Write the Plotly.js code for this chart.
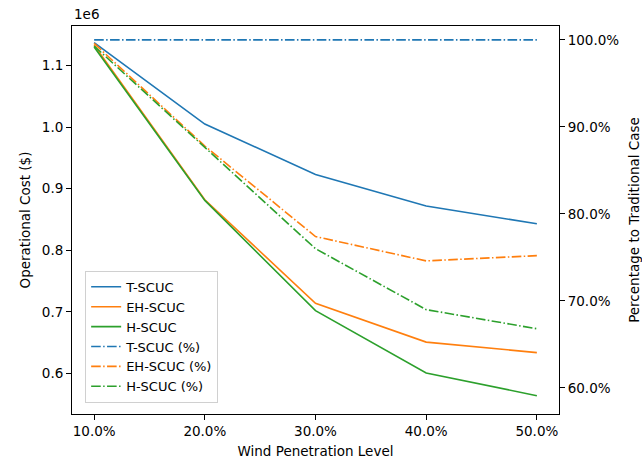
<!DOCTYPE html>
<html>
<head>
<meta charset="utf-8">
<script src="https://cdn.plot.ly/plotly-3.0.1.min.js"></script>
<style>html,body{margin:0;padding:0;background:#fff;}#chart{width:642px;height:462px;}</style>
</head>
<body>
<div id="chart"></div>
<script>
// Wind penetration levels (%)
const windLevels = [10, 20, 30, 40, 50];
const windLabels = ['10.0%', '20.0%', '30.0%', '40.0%', '50.0%'];
// Operational cost (in units of 1e6 $)
const costT = [1.137, 1.005, 0.923, 0.872, 0.843];
const costEH = [1.133, 0.882, 0.714, 0.651, 0.634];
const costH = [1.130, 0.881, 0.702, 0.601, 0.564];
// Percentage to traditional case (%)
const pctT = [100, 100, 100, 100, 100];
const pctEH = [99.6, 87.8, 77.4, 74.6, 75.2];
const pctH = [99.3, 87.6, 76.0, 69.0, 66.8];

const C_BLUE = '#1f77b4', C_ORANGE = '#ff7f0e', C_GREEN = '#2ca02c';
const DASHDOT = '9.6px,2.4px,1.5px,2.4px';

function solid(name, y, color) {
  return {x: windLevels, y: y, name: name, type: 'scatter', mode: 'lines',
          line: {color: color, width: 1.6}, yaxis: 'y', hoverinfo: 'skip'};
}
function dd(name, y, color) {
  return {x: windLevels, y: y, name: name, type: 'scatter', mode: 'lines',
          line: {color: color, width: 1.6, dash: DASHDOT}, yaxis: 'y2', hoverinfo: 'skip'};
}

const data = [
  solid('T-SCUC', costT, C_BLUE),
  solid('EH-SCUC', costEH, C_ORANGE),
  solid('H-SCUC', costH, C_GREEN),
  dd('T-SCUC (%)', pctT, C_BLUE),
  dd('EH-SCUC (%)', pctEH, C_ORANGE),
  dd('H-SCUC (%)', pctH, C_GREEN)
];

const FONT = 'DejaVu Sans, sans-serif';
const axisCommon = {
  showgrid: false, zeroline: false, showline: true, linecolor: '#000', linewidth: 1,
  ticks: 'outside', ticklen: 5, tickwidth: 1, tickcolor: '#000',
  tickfont: {family: FONT, size: 13.5, color: '#000'}
};

const layout = {
  width: 642, height: 462,
  margin: {l: 72, r: 83, t: 26, b: 48, pad: 0},
  paper_bgcolor: '#fff', plot_bgcolor: '#fff',
  font: {family: FONT, color: '#000'},
  showlegend: true,
  legend: {x: 0.027, y: 0.369, xanchor: 'left', yanchor: 'top',
           bgcolor: 'rgba(255,255,255,0.8)', bordercolor: '#d0d0d0', borderwidth: 1,
           font: {family: FONT, size: 13, color: '#000'}, tracegroupgap: 0},
  xaxis: Object.assign({}, axisCommon, {
    range: [8, 52], tickmode: 'array', tickvals: windLevels, ticktext: windLabels,
    mirror: true,
    title: {text: 'Wind Penetration Level', font: {family: FONT, size: 13.5}, standoff: 8}
  }),
  yaxis: Object.assign({}, axisCommon, {
    range: [0.5343, 1.1641], dtick: 0.1, tick0: 0, tickformat: '.1f',
    title: {text: 'Operational Cost ($)', font: {family: FONT, size: 13.5}, standoff: 8}
  }),
  yaxis2: Object.assign({}, axisCommon, {
    overlaying: 'y', side: 'right', range: [57.0, 101.6], dtick: 10, tick0: 0,
    tickformat: '.1f', ticksuffix: '%',
    title: {text: 'Percentage to Traditional Case', font: {family: FONT, size: 13.5}, standoff: 15}
  }),
  annotations: [{
    text: '1e6', xref: 'paper', yref: 'paper', x: 0, y: 1, xanchor: 'left', yanchor: 'bottom',
    yshift: 2, showarrow: false, font: {family: FONT, size: 13.5, color: '#000'}
  }]
};

Plotly.newPlot('chart', data, layout, {staticPlot: true, displayModeBar: false});
</script>
</body>
</html>
